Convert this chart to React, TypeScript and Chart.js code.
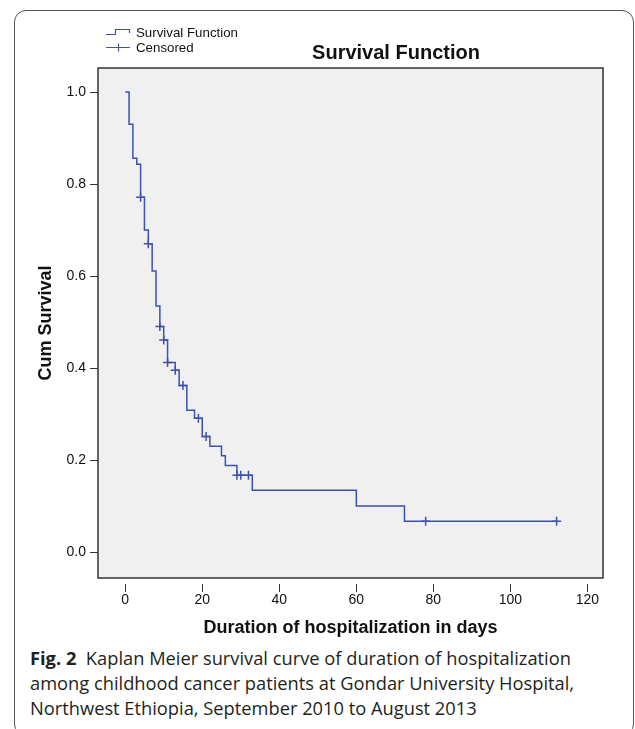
import React, { useEffect, useRef } from 'react';
import { Chart, registerables } from 'chart.js';

Chart.register(...registerables);

// Kaplan-Meier estimate: event days and cumulative survival after each event
const eventDays = [0, 1, 2, 3, 4, 5, 6, 7, 8, 9, 10, 11, 13, 14, 16, 18, 20, 22, 25, 26, 29, 33, 60, 72.5, 112];
const survival = [1.0, 0.93, 0.856, 0.843, 0.771, 0.7, 0.67, 0.611, 0.535, 0.49, 0.461, 0.412, 0.395, 0.362, 0.308, 0.291, 0.251, 0.23, 0.209, 0.188, 0.167, 0.134, 0.1, 0.067, 0.067];

// Censored observations
const censoredDays = [4, 6, 9, 10, 11, 13, 15, 19, 21, 29, 30, 32, 78, 112];
const censoredSurvival = [0.771, 0.67, 0.49, 0.461, 0.412, 0.395, 0.362, 0.291, 0.251, 0.167, 0.167, 0.167, 0.067, 0.067];

const xTicks = [0, 20, 40, 60, 80, 100, 120];
const yTicks = [0, 0.2, 0.4, 0.6, 0.8, 1.0];

const seriesLabels = ['Survival Function', 'Censored'];
const chartTitle = 'Survival Function';
const xTitle = 'Duration of hospitalization in days';
const yTitle = 'Cum Survival';

const FONT = '"Liberation Sans", Arial, Helvetica, sans-serif';
const LINE_COLOR = '#3d52b0';

const framePlugin = {
  id: 'spssFrame',
  beforeDraw(chart: any) {
    const { ctx, chartArea } = chart;
    ctx.save();
    ctx.fillStyle = '#f0f0f0';
    ctx.fillRect(chartArea.left, chartArea.top, chartArea.right - chartArea.left, chartArea.bottom - chartArea.top);
    ctx.restore();
  },
  beforeDatasetsDraw(chart: any) {
    const { ctx, chartArea } = chart;
    ctx.save();
    ctx.strokeStyle = '#333';
    ctx.lineWidth = 1.5;
    ctx.strokeRect(chartArea.left, chartArea.top, chartArea.right - chartArea.left, chartArea.bottom - chartArea.top);
    ctx.restore();
  },
  afterDraw(chart: any) {
    const { ctx } = chart;
    const opts = chart.options.plugins.spssFrame || {};
    const ds = chart.data.datasets;
    ctx.save();
    // title
    ctx.fillStyle = '#111';
    ctx.font = 'bold 20px ' + FONT;
    ctx.textAlign = 'center';
    ctx.textBaseline = 'middle';
    ctx.fillText(opts.title, 396, 53);
    // legend
    ctx.font = '13.3px ' + FONT;
    ctx.textAlign = 'left';
    ctx.lineWidth = 1.2;
    ctx.strokeStyle = ds[0].borderColor;
    ctx.beginPath();
    ctx.moveTo(106, 34.5);
    ctx.lineTo(115.5, 34.5);
    ctx.lineTo(115.5, 29.5);
    ctx.lineTo(129.5, 29.5);
    ctx.lineTo(129.5, 33);
    ctx.stroke();
    ctx.fillText(ds[0].label, 136, 33);
    ctx.strokeStyle = ds[1].borderColor;
    ctx.beginPath();
    ctx.moveTo(106, 47.5);
    ctx.lineTo(130, 47.5);
    ctx.moveTo(118.5, 43.5);
    ctx.lineTo(118.5, 51.5);
    ctx.stroke();
    ctx.fillText(ds[1].label, 136, 48);
    ctx.restore();
  },
};

export default function App() {
  const canvasRef = useRef<HTMLCanvasElement | null>(null);

  useEffect(() => {
    const canvas = canvasRef.current;
    if (!canvas) return;
    const stepData = eventDays.map((d, i) => ({ x: d, y: survival[i] }));
    const censorData = censoredDays.map((d, i) => ({ x: d, y: censoredSurvival[i] }));

    const chart = new Chart(canvas, {
      type: 'line',
      data: {
        datasets: [
          {
            label: seriesLabels[0],
            data: stepData,
            stepped: 'before',
            borderColor: LINE_COLOR,
            borderWidth: 1.5,
            pointRadius: 0,
            fill: false,
          },
          {
            label: seriesLabels[1],
            data: censorData,
            showLine: false,
            pointStyle: 'cross',
            pointRadius: 4.5,
            pointBorderWidth: 1.5,
            borderColor: LINE_COLOR,
            backgroundColor: LINE_COLOR,
          },
        ],
      },
      options: {
        animation: false,
        responsive: false,
        devicePixelRatio: 1,
        events: [],
        layout: { padding: { top: 68, right: 32, bottom: 0, left: 0 } },
        plugins: {
          legend: { display: false },
          title: { display: false },
          tooltip: { enabled: false },
          spssFrame: { title: chartTitle },
        } as any,
        scales: {
          x: {
            type: 'linear',
            min: -7.06,
            max: 124.04,
            afterBuildTicks: (s: any) => {
              s.ticks = xTicks.map((v) => ({ value: v }));
            },
            afterFit: (s: any) => {
              s.height = 67;
            },
            border: { display: false },
            grid: {
              drawOnChartArea: false,
              drawTicks: true,
              tickLength: 14,
              tickColor: '#333',
              tickWidth: 1,
              tickBorderDash: [0, 6, 8, 40],
            } as any,
            ticks: {
              color: '#111',
              font: { family: FONT, size: 14 },
              padding: 0,
              maxRotation: 0,
              autoSkip: false,
              callback: (v: any) => String(v),
            },
            title: {
              display: true,
              text: xTitle,
              color: '#111',
              font: { family: FONT, size: 18, weight: 'bold' },
              padding: { top: 0, bottom: 6 },
            },
          },
          y: {
            type: 'linear',
            min: -0.0565,
            max: 1.0522,
            afterBuildTicks: (s: any) => {
              s.ticks = yTicks.map((v) => ({ value: v }));
            },
            afterFit: (s: any) => {
              s.width = 98;
            },
            border: { display: false },
            grid: {
              drawOnChartArea: false,
              drawTicks: true,
              tickLength: 8,
              tickColor: '#333',
              tickWidth: 1,
            },
            ticks: {
              color: '#111',
              font: { family: FONT, size: 14 },
              padding: 4,
              autoSkip: false,
              callback: (v: any) => Number(v).toFixed(1),
            },
            title: {
              display: true,
              text: yTitle,
              color: '#111',
              font: { family: FONT, size: 18, weight: 'bold' },
              padding: { top: 35, bottom: 0 },
            },
          },
        },
      } as any,
      plugins: [framePlugin],
    });
    return () => chart.destroy();
  }, []);

  return (
    <div style={{ position: 'absolute', left: 0, top: 0, width: 635, height: 729, overflow: 'hidden', background: '#fff' }}>
      <div
        style={{
          position: 'absolute',
          left: 14,
          top: 10,
          width: 620,
          height: 726,
          border: '1px solid #555',
          borderRadius: 12,
          boxSizing: 'border-box',
        }}
      />
      <canvas
        ref={canvasRef}
        width={635}
        height={645}
        style={{ position: 'absolute', left: 0, top: 0, width: 635, height: 645 }}
      />
      <div
        style={{
          position: 'absolute',
          left: 30,
          top: 645,
          fontFamily: '"Open Sans", "Noto Sans", sans-serif',
          fontSize: 18.3,
          lineHeight: '25px',
          color: '#231f20',
          whiteSpace: 'nowrap',
        }}
      >
        <div>
          <b>Fig. 2</b>&nbsp; Kaplan Meier survival curve of duration of hospitalization
        </div>
        <div>among childhood cancer patients at Gondar University Hospital,</div>
        <div>Northwest Ethiopia, September 2010 to August 2013</div>
      </div>
    </div>
  );
}
